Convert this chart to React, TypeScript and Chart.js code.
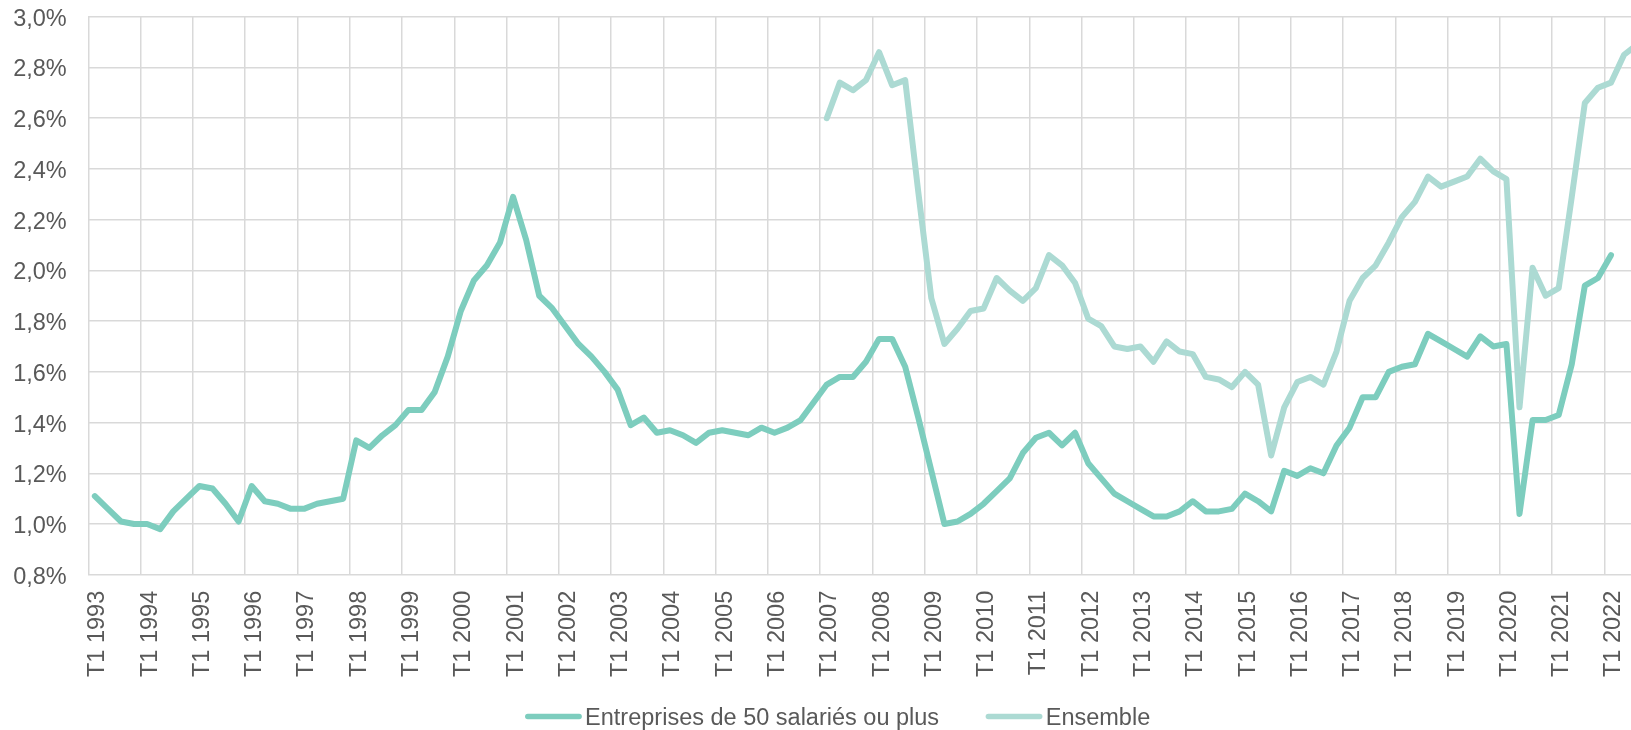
import React, { useEffect, useRef } from 'react';
import { Chart, registerables } from 'chart.js';

Chart.register(...registerables);

// ---- Data ----
const years = [1993, 1994, 1995, 1996, 1997, 1998, 1999, 2000, 2001, 2002, 2003, 2004, 2005, 2006, 2007, 2008, 2009, 2010, 2011, 2012, 2013, 2014, 2015, 2016, 2017, 2018, 2019, 2020, 2021, 2022, 2023];
const quarters = ['T1', 'T2', 'T3', 'T4'];
const categoryCount = 121; // T1 1993 ... T1 2023 (chart runs past the visible frame)
const categories = years.flatMap((y) => quarters.map((q) => `${q} ${y}`)).slice(0, categoryCount);

const seriesNames = ['Entreprises de 50 salariés ou plus', 'Ensemble'];

// T1 1993 -> T1 2022
const entreprises50 = [
  1.11, 1.06, 1.01, 1.0,
  1.0, 0.98, 1.05, 1.1,
  1.15, 1.14, 1.08, 1.01,
  1.15, 1.09, 1.08, 1.06,
  1.06, 1.08, 1.09, 1.1,
  1.33, 1.3, 1.35, 1.39,
  1.45, 1.45, 1.52, 1.66,
  1.84, 1.96, 2.02, 2.11,
  2.29, 2.12, 1.9, 1.85,
  1.78, 1.71, 1.66, 1.6,
  1.53, 1.39, 1.42, 1.36,
  1.37, 1.35, 1.32, 1.36,
  1.37, 1.36, 1.35, 1.38,
  1.36, 1.38, 1.41, 1.48,
  1.55, 1.58, 1.58, 1.64,
  1.73, 1.73, 1.62, 1.42,
  1.21, 1.0, 1.01, 1.04,
  1.08, 1.13, 1.18, 1.28,
  1.34, 1.36, 1.31, 1.36,
  1.24, 1.18, 1.12, 1.09,
  1.06, 1.03, 1.03, 1.05,
  1.09, 1.05, 1.05, 1.06,
  1.12, 1.09, 1.05, 1.21,
  1.19, 1.22, 1.2, 1.31,
  1.38, 1.5, 1.5, 1.6,
  1.62, 1.63, 1.75, 1.72,
  1.69, 1.66, 1.74, 1.7,
  1.71, 1.04, 1.41, 1.41,
  1.43, 1.63, 1.94, 1.97,
  2.06,
];

// Ensemble starts at T1 2007
const ensembleStartIndex = 56;
const ensemble = [
  2.6, 2.74, 2.71, 2.75,
  2.86, 2.73, 2.75, 2.31,
  1.89, 1.71, 1.77, 1.84,
  1.85, 1.97, 1.92, 1.88,
  1.93, 2.06, 2.02, 1.95,
  1.81, 1.78, 1.7, 1.69,
  1.7, 1.64, 1.72, 1.68,
  1.67, 1.58, 1.57, 1.54,
  1.6, 1.55, 1.27, 1.46,
  1.56, 1.58, 1.55, 1.68,
  1.88, 1.97, 2.02, 2.11,
  2.21, 2.27, 2.37, 2.33,
  2.35, 2.37, 2.44, 2.39,
  2.36, 1.46, 2.01, 1.9,
  1.93, 2.29, 2.66, 2.72,
  2.74, 2.85, 2.89,
];

const yMin = 0.8;
const yMax = 3.0;
const yStep = 0.2;

// ---- Styles ----
const FONT = "'Liberation Sans', Arial, sans-serif";
const FONT_SIZE = 23.5;
const TEXT_COLOR = '#595959';
const GRID_COLOR = '#d9d9d9';
const COLORS = ['#7dcdbe', '#acdad3'];
const LINE_W = 6;

const CANVAS_W = 1700;
const CANVAS_H = 730;

const legendPlugin = {
  id: 'customLegend',
  afterDraw(chart: any) {
    const ctx = chart.ctx;
    ctx.save();
    ctx.font = `${FONT_SIZE}px ${FONT}`;
    const sampleLen = 51.3;
    const textGap = 6;
    const itemGap = 49.3;
    const items = chart.data.datasets.map((ds: any) => ({
      text: ds.label,
      color: ds.borderColor,
      w: ctx.measureText(ds.label).width,
    }));
    let total = 0;
    items.forEach((it: any, i: number) => {
      total += sampleLen + textGap + it.w + (i < items.length - 1 ? itemGap : 0);
    });
    const centerX = 839;
    const lineY = 716.5;
    const baseY = 725;
    let x = centerX - total / 2;
    items.forEach((it: any) => {
      ctx.strokeStyle = it.color;
      ctx.lineWidth = 5.5;
      ctx.lineCap = 'round';
      ctx.beginPath();
      ctx.moveTo(x, lineY);
      ctx.lineTo(x + sampleLen, lineY);
      ctx.stroke();
      x += sampleLen + textGap;
      ctx.fillStyle = TEXT_COLOR;
      ctx.textAlign = 'left';
      ctx.textBaseline = 'alphabetic';
      ctx.fillText(it.text, x, baseY);
      x += it.w + itemGap;
    });
    ctx.restore();
  },
};

export default function App() {
  const canvasRef = useRef<HTMLCanvasElement | null>(null);

  useEffect(() => {
    const canvas = canvasRef.current;
    if (!canvas) return;
    const ensembleData = new Array(ensembleStartIndex).fill(null).concat(ensemble);

    const chart = new Chart(canvas, {
      type: 'line',
      data: {
        labels: categories,
        datasets: [
          {
            label: seriesNames[0],
            data: entreprises50,
            borderColor: COLORS[0],
            backgroundColor: COLORS[0],
            borderWidth: LINE_W,
            pointRadius: 0,
            pointHoverRadius: 0,
            tension: 0,
            borderJoinStyle: 'round',
            borderCapStyle: 'round',
            spanGaps: false,
            order: 1,
          },
          {
            label: seriesNames[1],
            data: ensembleData,
            borderColor: COLORS[1],
            backgroundColor: COLORS[1],
            borderWidth: LINE_W,
            pointRadius: 0,
            pointHoverRadius: 0,
            tension: 0,
            borderJoinStyle: 'round',
            borderCapStyle: 'round',
            spanGaps: false,
            order: 2,
          },
        ],
      },
      options: {
        responsive: false,
        animation: false,
        devicePixelRatio: 1,
        layout: {
          padding: { left: 0, top: 16.7, right: CANVAS_W - 1669.8, bottom: 45.2 },
        },
        plugins: {
          legend: { display: false },
          tooltip: { enabled: false },
          title: { display: false },
        },
        scales: {
          x: {
            type: 'category',
            offset: true,
            afterFit: (scale: any) => {
              scale.height = 110;
              scale.paddingLeft = 0;
              scale.paddingRight = 0;
              scale.paddingTop = 0;
              scale.paddingBottom = 0;
            },
            grid: {
              offset: true,
              drawTicks: false,
              lineWidth: 1.5,
              color: (ctx: any) => (ctx.index % 4 === 0 ? GRID_COLOR : 'rgba(0,0,0,0)'),
            },
            border: { display: false },
            ticks: {
              autoSkip: false,
              minRotation: 90,
              maxRotation: 90,
              padding: 16,
              labelOffset: 3,
              color: TEXT_COLOR,
              font: { family: FONT, size: FONT_SIZE },
              callback: (_v: any, i: number) => (i % 4 === 0 ? categories[i] : ''),
            },
          },
          y: {
            min: yMin,
            max: yMax,
            afterFit: (scale: any) => {
              scale.width = 88.3;
              scale.paddingLeft = 0;
              scale.paddingRight = 0;
              scale.paddingTop = 0;
              scale.paddingBottom = 0;
            },
            grid: {
              drawTicks: false,
              lineWidth: 1.5,
              color: GRID_COLOR,
            },
            border: { display: false },
            ticks: {
              stepSize: yStep,
              padding: 21.6,
              labelOffset: 2.5,
              color: TEXT_COLOR,
              font: { family: FONT, size: FONT_SIZE },
              callback: (v: any) => Number(v).toFixed(1).replace('.', ',') + '%',
            },
          },
        },
      },
      plugins: [legendPlugin],
    });

    return () => {
      chart.destroy();
    };
  }, []);

  return (
    <div
      style={{
        position: 'fixed',
        left: 0,
        top: 0,
        width: 1631,
        height: 730,
        overflow: 'hidden',
        background: '#ffffff',
      }}
    >
      <canvas ref={canvasRef} width={CANVAS_W} height={CANVAS_H} style={{ display: 'block' }} />
    </div>
  );
}
